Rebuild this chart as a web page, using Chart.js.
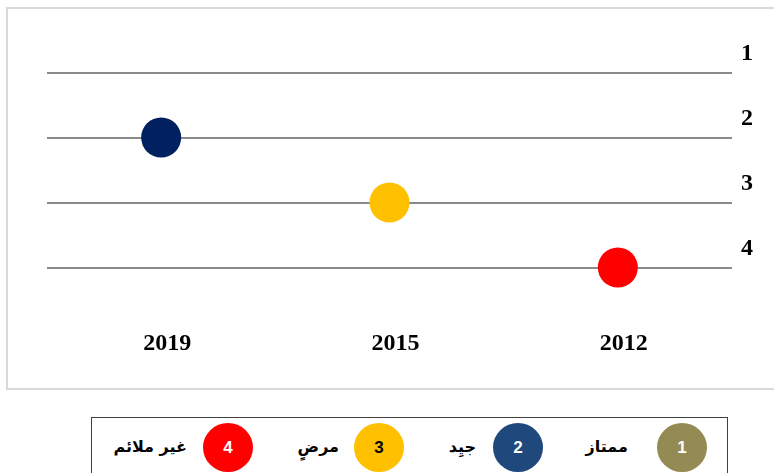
<!DOCTYPE html>
<html lang="ar">
<head>
<meta charset="utf-8">
<script src="https://cdn.jsdelivr.net/npm/chart.js@4/dist/chart.umd.min.js"></script>
<style>
  html, body { margin: 0; padding: 0; background: #fff; overflow: hidden; }
  #page { position: relative; width: 774px; height: 473px; }
  #frame {
    position: absolute; left: 6px; top: 7px; width: 800px; height: 383px;
    border: 2px solid #d9d9d9; box-sizing: border-box;
  }
  #chartBox { position: absolute; left: 0; top: 0; width: 774px; height: 473px; }
  #legend {
    position: absolute; left: 91px; top: 417px; width: 637px; height: 80px;
    border: 1.5px solid #404040; box-sizing: border-box; background: #fff;
  }
  .dot {
    position: absolute; top: 5px; width: 50px; height: 49px; border-radius: 50%;
    font: bold 17px "Liberation Sans", Arial, sans-serif; line-height: 50px;
    text-align: center;
  }
  .name {
    position: absolute; top: 19px; direction: rtl; white-space: nowrap;
    font: bold 16px "DejaVu Sans", sans-serif; color: #000;
  }
</style>
</head>
<body>
<div id="page">
  <div id="frame"></div>
  <div id="chartBox"><canvas id="ratingChart"></canvas></div>
  <div id="legend"></div>
</div>
<script>
  'use strict';

  const years = ['2019', '2015', '2012'];
  const ratings = [2, 3, 4];
  const pointColors = ['#002060', '#ffc000', '#ff0000'];

  const levels = [1, 2, 3, 4];
  const levelNames = ['ممتاز', 'جيِد', 'مرضٍ', 'غير ملائم'];
  const levelColors = ['#948a54', '#1f497d', '#ffc000', '#ff0000'];
  const levelTextColors = ['#fff', '#fff', '#000', '#fff'];

  // legend layout (page px): circle centre x, text right edge x
  const legendDotX = [681, 517, 378, 227];
  const legendTextRight = [629, 477, 340, 188];

  const legendEl = document.getElementById('legend');
  const legendLeft = 91;
  levels.forEach((lvl, i) => {
    const dot = document.createElement('div');
    dot.className = 'dot';
    dot.style.left = `${legendDotX[i] - 25 - legendLeft}px`;
    dot.style.background = levelColors[i];
    dot.style.color = levelTextColors[i];
    dot.textContent = lvl;
    legendEl.appendChild(dot);

    const name = document.createElement('div');
    name.className = 'name';
    name.style.right = `${legendLeft + 637 - legendTextRight[i]}px`;
    name.textContent = levelNames[i];
    legendEl.appendChild(name);
  });

  const axisFont = { family: '"Liberation Serif", "DejaVu Serif", serif', size: 24, weight: 'bold' };

  // eslint-disable-next-line no-new
  new Chart(document.getElementById('ratingChart'), {
    type: 'line',
    data: {
      labels: years,
      datasets: [{
        data: ratings,
        showLine: false,
        pointRadius: 20,
        pointBorderWidth: 0,
        pointBackgroundColor: pointColors
      }, {
        data: ratings,
        showLine: false,
        pointRadius: 6,
        pointBorderWidth: 0.75,
        pointBackgroundColor: 'rgba(0,0,0,0)',
        pointBorderColor: 'rgba(255,255,255,0.35)'
      }]
    },
    options: {
      responsive: true,
      maintainAspectRatio: false,
      animation: false,
      events: [],
      layout: { padding: { left: 47, right: 0, top: 40, bottom: 116 } },
      plugins: {
        legend: { display: false },
        tooltip: { enabled: false }
      },
      scales: {
        x: {
          type: 'category',
          offset: true,
          grid: { display: false, drawTicks: false },
          border: { display: false },
          ticks: { color: '#000', font: axisFont, padding: 29, labelOffset: 6 },
          afterFit(scale) { scale.height = 57; }
        },
        y: {
          position: 'right',
          reverse: true,
          min: 0.5,
          max: 4.5,
          afterBuildTicks(scale) { scale.ticks = levels.map((v) => ({ value: v })); },
          grid: { color: '#8a8a8a', lineWidth: 2, drawTicks: false },
          border: { display: false },
          ticks: { color: '#000', font: axisFont, padding: 9, labelOffset: -19 },
          afterFit(scale) { scale.width = 42; }
        }
      }
    }
  });
</script>
</body>
</html>
